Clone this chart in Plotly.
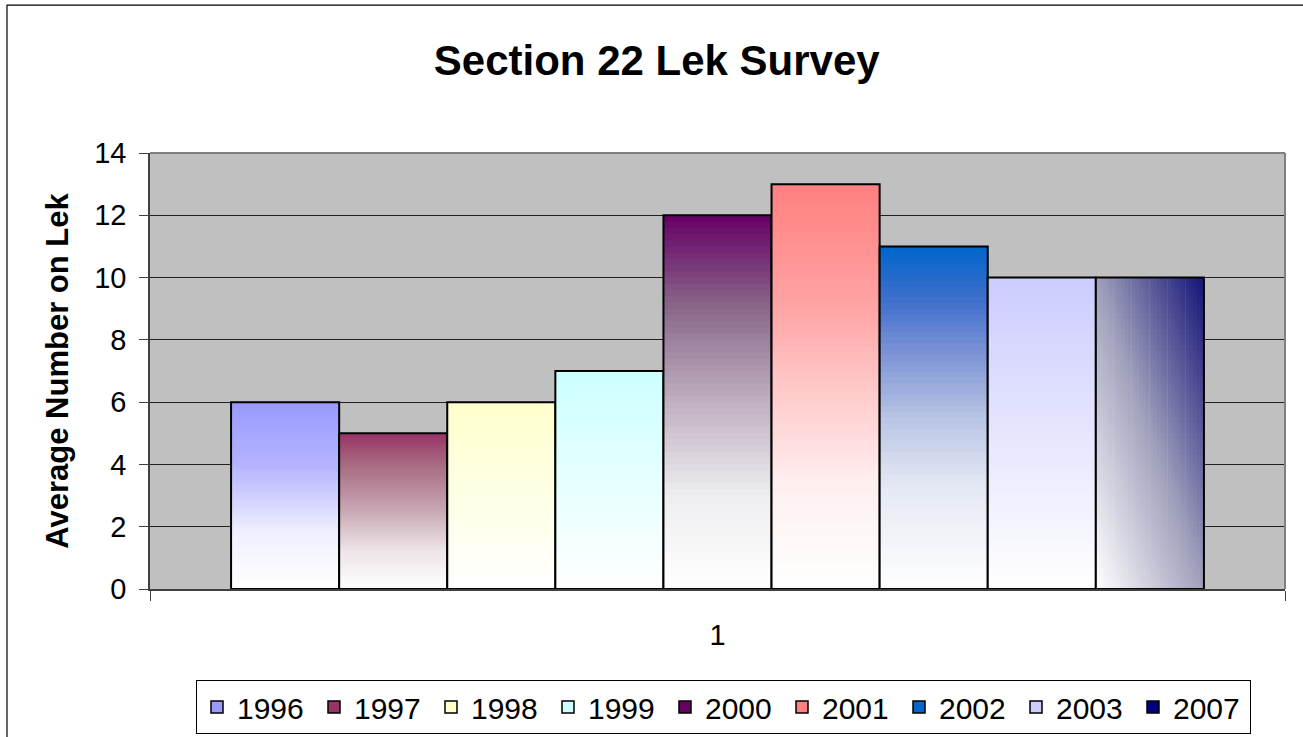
import plotly.graph_objects as go

# ---------------- data ----------------
years = ["1996", "1997", "1998", "1999", "2000", "2001", "2002", "2003", "2007"]
avg_on_lek = [6, 5, 6, 7, 12, 13, 11, 10, 10]
category = "1"
y_ticks = [0, 2, 4, 6, 8, 10, 12, 14]

# ---------------- styles ----------------
solid_colors = ["#9999FF", "#993366", "#FFFFCC", "#CCFFFF", "#660066",
                "#FF8080", "#0066CC", "#CCCCFF", "#000080"]
# gradient stops (fraction of bar -> colour); 2007 is a diagonal gradient
gradient_stops = {
    "1996": [(0, "#FFFFFF"), (0.3, "#F0F0FF"), (0.66, "#B4B4FF"), (1, "#9999FF")],
    "1997": [(0, "#FFFFFF"), (0.25, "#EDE4E8"), (0.5, "#C8A8B4"), (0.8, "#A86A82"), (1, "#993366")],
    "1998": [(0, "#FFFFFF"), (1, "#FFFFCC")],
    "1999": [(0, "#FFFFFF"), (1, "#CCFFFF")],
    "2000": [(0, "#FFFFFF"), (0.25, "#EEEDF0"), (0.5, "#C0B0C0"), (0.75, "#8A688A"), (1, "#660066")],
    "2001": [(0, "#FFFFFF"), (0.25, "#FFF0F0"), (0.5, "#FFC8C8"), (0.72, "#FFA0A0"), (1, "#FF8080")],
    "2002": [(0, "#FFFFFF"), (0.3, "#E4E8F4"), (0.5, "#B8C4E4"), (0.7, "#7890D4"), (0.85, "#3C6ECC"), (1, "#0066CC")],
    "2003": [(0, "#FFFFFF"), (1, "#CCCCFF")],
    "2007": [(0, "#FFFFFF"), (0.5, "#A0A0BC"), (1, "#141478")],
}
diagonal_years = {"2007"}
FONT = "Liberation Sans, Arial, sans-serif"


def hex2rgb(h):
    h = h.lstrip("#")
    return tuple(int(h[i:i + 2], 16) for i in (0, 2, 4))


def interp(stops, t):
    t = min(max(t, 0.0), 1.0)
    for (t0, c0), (t1, c1) in zip(stops[:-1], stops[1:]):
        if t0 <= t <= t1:
            f = 0 if t1 == t0 else (t - t0) / (t1 - t0)
            a, b = hex2rgb(c0), hex2rgb(c1)
            r = [round(a[k] + (b[k] - a[k]) * f) for k in range(3)]
            return "rgb(%d,%d,%d)" % tuple(r)
    return stops[-1][1]


n_bars = len(years)
bargap = 1 / 7
bar_w = (1 - bargap) / n_bars
first_offset = -0.5 + bargap / 2

fig = go.Figure()
NV = 60   # vertical slices
NH = 30   # horizontal slices (diagonal gradient)

for k, (yr, v) in enumerate(zip(years, avg_on_lek)):
    off = first_offset + k * bar_w
    stops = gradient_stops[yr]
    xs, ys, bases, cols, offs, wids = [], [], [], [], [], []
    if yr in diagonal_years:
        for j in range(NH):
            u = (j + 0.5) / NH
            for i in range(NV):
                h = (i + 0.5) / NV
                xs.append(category)
                bases.append(v * i / NV)
                ys.append(v - v * i / NV)
                offs.append(off + bar_w * j / NH)
                wids.append(bar_w - bar_w * j / NH)
                cols.append(interp(stops, (u + h) / 2))
    else:
        for i in range(NV):
            h = (i + 0.5) / NV
            xs.append(category)
            bases.append(v * i / NV)
            ys.append(v - v * i / NV)
            offs.append(off)
            wids.append(bar_w)
            cols.append(interp(stops, h))
    fig.add_trace(go.Bar(x=xs, y=ys, base=bases, offset=offs, width=wids,
                         marker=dict(color=cols, line=dict(width=0)),
                         showlegend=False, hoverinfo="skip"))
    # outline
    fig.add_trace(go.Bar(x=[category], y=[v], offset=off, width=bar_w,
                         marker=dict(color="rgba(0,0,0,0)",
                                     line=dict(color="black", width=2)),
                         showlegend=False, name=yr))

# legend entries
for yr, c in zip(years, solid_colors):
    fig.add_trace(go.Bar(x=[category], y=[None], name=yr,
                         marker=dict(color=c, line=dict(color="black", width=1.5))))

fig.update_layout(
    width=1303, height=737,
    margin=dict(l=150, r=18, t=153, b=148),
    paper_bgcolor="white", plot_bgcolor="#C0C0C0",
    barmode="overlay",
    font=dict(family=FONT, color="black", size=29),
    title=dict(text="Section 22 Lek Survey", x=0.504, xref="container",
               y=1 - 60 / 737, yref="container", xanchor="center", yanchor="middle",
               font=dict(size=42, family=FONT, weight="bold", color="black")),
    showlegend=True,
    legend=dict(orientation="h", x=196 / 1303, xanchor="left", xref="container",
                y=1 - 680 / 737, yanchor="top", yref="container",
                bgcolor="white", bordercolor="black", borderwidth=1,
                font=dict(size=30, family=FONT), entrywidth=72, traceorder="normal"),
    xaxis=dict(type="category", range=[-0.5, 0.5], showgrid=False, automargin=False,
               showline=True, linecolor="#404040", linewidth=1.5,
               ticks="outside", tickson="boundaries", ticklen=10, tickcolor="#404040",
               ticklabelstandoff=19, tickfont=dict(size=29), fixedrange=True),
    yaxis=dict(range=[0, 14], tickvals=y_ticks, showgrid=True, gridcolor="#202020",
               gridwidth=1, zeroline=False, showline=True, linecolor="#404040",
               linewidth=1.5, ticks="outside", ticklen=9, tickcolor="#404040",
               ticklabelstandoff=7, automargin=False,
               tickfont=dict(size=29),
               title=dict(text="Average Number on Lek", standoff=16,
                          font=dict(size=31, family=FONT, weight="bold"))),
    shapes=[
        dict(type="line", xref="paper", yref="paper", x0=0, x1=1, y0=1, y1=1,
             line=dict(color="#808080", width=2)),
        dict(type="line", xref="paper", yref="paper", x0=1, x1=1, y0=0, y1=1,
             line=dict(color="#808080", width=2)),
        dict(type="rect", xref="paper", yref="paper", x0=-0.126, x1=1.1,
             y0=-0.5, y1=1.339, line=dict(color="black", width=1.2),
             fillcolor="rgba(0,0,0,0)", layer="above"),
    ],
)

fig.write_html("out.html", config={"displayModeBar": False},
               post_script="document.body.style.margin='0px';")
